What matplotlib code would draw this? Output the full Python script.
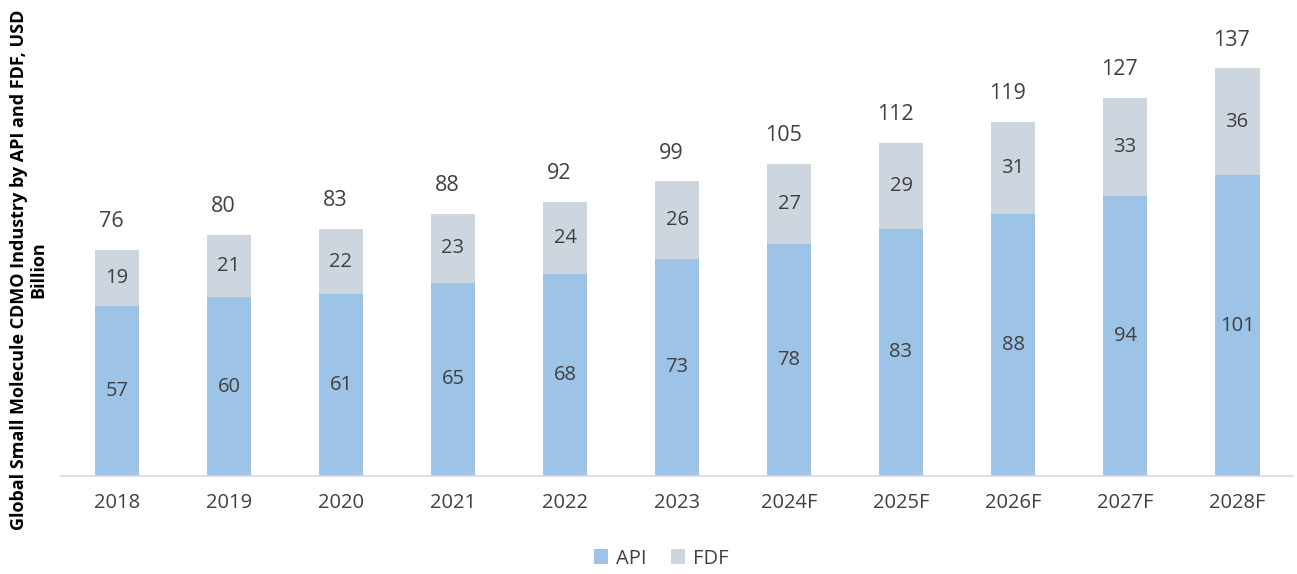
import matplotlib.pyplot as plt
import numpy as np

plt.rcParams['font.family'] = ['Open Sans', 'DejaVu Sans']

years = ['2018', '2019', '2020', '2021', '2022', '2023',
         '2024F', '2025F', '2026F', '2027F', '2028F']
api = [57, 60, 61, 65, 68, 73, 78, 83, 88, 94, 101]
fdf = [19, 21, 22, 23, 24, 26, 27, 29, 31, 33, 36]
totals = [76, 80, 83, 88, 92, 99, 105, 112, 119, 127, 137]

api_color = '#9dc3e6'
fdf_color = '#cdd5df'
text_color = '#404040'

fig = plt.figure(figsize=(12.97, 5.74), dpi=100)
ax = fig.add_axes([0.047, 0.171, 0.95, 0.829])

x = np.arange(len(years))
w = 0.4
b1 = ax.bar(x, api, w, color=api_color, label='API')
b2 = ax.bar(x, fdf, w, bottom=api, color=fdf_color, label='FDF')

ax.bar_label(b1, labels=[str(v) for v in api], label_type='center',
             fontsize=14.5, color=text_color)
ax.bar_label(b2, labels=[str(v) for v in fdf], label_type='center',
             fontsize=14.5, color=text_color)
# totals sit just above each stack, nudged slightly left
for xi, a, f, t in zip(x, api, fdf, totals):
    ax.text(xi - 0.05, a + f + 9.5, str(t), ha='center', va='center',
            fontsize=15.5, color=text_color)

ax.set_xlim(-0.5, len(years) - 0.5)
ax.set_ylim(0, 160)
ax.set_xticks(x)
ax.set_xticklabels(years, fontsize=14.5, color=text_color)
ax.tick_params(axis='x', length=0, pad=12)
ax.set_yticks([])
for s in ['top', 'right', 'left']:
    ax.spines[s].set_visible(False)
ax.spines['bottom'].set_color('#d9d9d9')
ax.spines['bottom'].set_linewidth(1.2)

fig.text(0.022, 0.53, 'Global Small Molecule CDMO Industry by API and FDF, USD\nBillion',
         rotation=90, ha='center', va='center', fontsize=13,
         fontweight='bold', color='black', multialignment='center',
         linespacing=1.1)

fig.legend(handles=[b1, b2], loc='center', bbox_to_anchor=(0.51, 0.027),
           ncol=2, frameon=False, fontsize=14.5, handlelength=0.7,
           handleheight=0.7, handletextpad=0.4, columnspacing=1.2,
           labelcolor=text_color)

fig.savefig('out.png', dpi=100)
